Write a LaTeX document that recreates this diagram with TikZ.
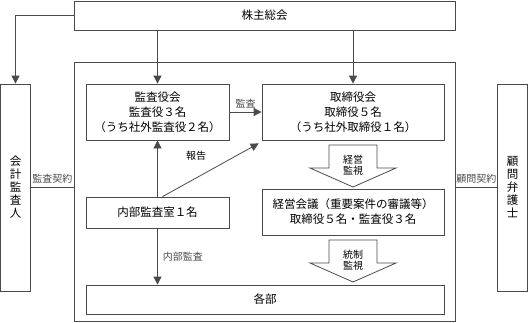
\documentclass[tikz,border=0pt]{standalone}
\usepackage{fontspec}
\setmainfont{Noto Sans CJK JP}
\usetikzlibrary{arrows.meta,calc}
\definecolor{lineGray}{HTML}{4A4A4A}

\tikzset{
  box/.style={draw=lineGray,line width=0.8pt,inner sep=0pt,align=center,
    font=\fontsize{11.5}{15}\selectfont},
  lbl/.style={inner sep=1pt,font=\fontsize{10}{11}\selectfont},
  arr/.style={lineGray,line width=0.8pt,-{Triangle[width=8pt,length=8pt]}},
  ln/.style={lineGray,line width=0.8pt}
}

\begin{document}
\begin{tikzpicture}[x=1pt,y=-1pt]
  \useasboundingbox (0,0) rectangle (528,322);
  % frames
  \node[box,minimum width=381,minimum height=259] (frame) at (264.5,191.5) {};
  \node[box,minimum width=381,minimum height=29] (gm) at (264.5,15.5) {株主総会};
  \node[box,minimum width=30,minimum height=207,font=\fontsize{11.5}{13}\selectfont]
    (auditor) at (15.5,187.5) {会\\計\\監\\査\\人};
  \node[box,minimum width=30,minimum height=207,font=\fontsize{11.5}{13}\selectfont]
    (lawyer) at (512.5,187.5) {顧\\問\\弁\\護\\士};
  % inside
  \node[box,minimum width=143,minimum height=56] (kansa) at (157.5,112)
    {監査役会\\監査役３名\\（うち社外監査役２名）};
  \node[box,minimum width=182,minimum height=56] (board) at (353,112)
    {取締役会\\取締役５名\\（うち社外取締役１名）};
  \node[box,minimum width=143,minimum height=31] (naibu) at (157.5,212.5) {内部監査室１名};
  \node[box,minimum width=182,minimum height=46] (keiei) at (353,212)
    {経営会議（重要案件の審議等）\\取締役５名・監査役３名};
  \node[box,minimum width=358,minimum height=29] (depts) at (265,299.5) {各部};

  % connectors
  \draw[arr] (gm.west) -| (auditor.north);
  \draw[arr] (gm.south -| kansa.north) -- (kansa.north);
  \draw[arr] (gm.south -| board.north) -- (board.north);
  \draw[arr] (kansa.east) -- (board.west) node[lbl,midway,above=3pt] (lblkansa) {監査};
  \draw[arr] (naibu.north) -- (kansa.south);
  \coordinate (rep) at ($(naibu.north)+(5,0)$);
  \draw[arr] (rep) -- ($(board.south west)+(-3,3)$);
  \node[lbl] (lblreport) at (196,156) {報告};
  \draw[arr] (naibu.south) -- (depts.north -| naibu.south)
    node[lbl,midway,right=4pt] (lblnaibu) {内部監査};
  \draw[ln] (auditor.east) -- (auditor.east -| frame.west)
    node[lbl,midway,above=3pt] (lblaudit) {監査契約};
  \draw[ln] (lawyer.west) -- (lawyer.west -| frame.east)
    node[lbl,midway,above=3pt] (lbllaw) {顧問契約};

  % hollow arrows
  \foreach \ay/\txt in {145/{経営\\監視},240/{統制\\監視}}{
    \draw[ln,fill=white] (329,\ay) -- (329,\ay+23) -- (310,\ay+23) -- (353,\ay+42)
      -- (396,\ay+23) -- (377,\ay+23) -- (377,\ay) -- cycle;
    \node[lbl,align=center] (flow\ay) at (353,\ay+20) {\txt};
  }
\end{tikzpicture}
\end{document}
